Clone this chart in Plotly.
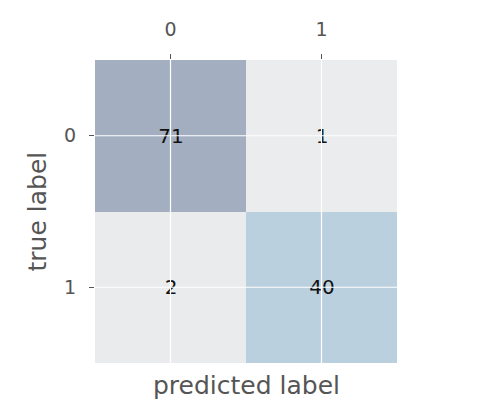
import plotly.graph_objects as go

# Data
pred_labels = ["0", "1"]
true_labels = ["0", "1"]
counts = [[71, 1],
          [2, 40]]

# Blues colormap at alpha 0.3 over ggplot grey (#E5E5E5)
blues = ["#f7fbff", "#deebf7", "#c6dbef", "#9ecae1", "#6baed6",
         "#4292c6", "#2171b5", "#08519c", "#08306b"]
bg = (229, 229, 229)
def blend(h, a=0.3):
    r, g, b = int(h[1:3], 16), int(h[3:5], 16), int(h[5:7], 16)
    return "rgb(%d,%d,%d)" % tuple(round(a * c + (1 - a) * k) for c, k in zip((r, g, b), bg))
colorscale = [[i / (len(blues) - 1), blend(c)] for i, c in enumerate(blues)]

xs = list(range(len(pred_labels)))
ys = list(range(len(true_labels)))

fig = go.Figure()
fig.add_trace(go.Heatmap(
    z=counts, x=xs, y=ys, colorscale=colorscale, showscale=False,
    text=[[str(v) for v in row] for row in counts],
    texttemplate="%{text}",
    textfont=dict(family="DejaVu Sans", size=20, color="#111111"),
    hoverinfo="skip",
))

# white grid lines above the image, at tick positions
for i in xs:
    fig.add_shape(type="line", x0=i, x1=i, y0=0, y1=1, xref="x", yref="y domain",
                  line=dict(color="white", width=1.2), layer="above")
for j in ys:
    fig.add_shape(type="line", y0=j, y1=j, x0=0, x1=1, yref="y", xref="x domain",
                  line=dict(color="white", width=1.2), layer="above")

tickfont = dict(family="DejaVu Sans", size=19, color="#555555")
fig.update_layout(
    width=477, height=417,
    margin=dict(l=87, r=88, t=52, b=62),
    paper_bgcolor="white", plot_bgcolor="#E5E5E5",
    font=dict(family="DejaVu Sans", color="#555555"),
    xaxis=dict(side="top", tickmode="array", tickvals=xs, ticktext=pred_labels,
               range=[-0.5, len(xs) - 0.5], showgrid=False, zeroline=False,
               ticks="outside", ticklen=5, tickcolor="#555555", tickwidth=1,
               ticklabelstandoff=10, automargin=False,
               tickfont=tickfont, showline=False, fixedrange=True),
    yaxis=dict(tickmode="array", tickvals=ys, ticktext=true_labels,
               range=[len(ys) - 0.5, -0.5], showgrid=False, zeroline=False,
               ticks="outside", ticklen=5, tickcolor="#555555", tickwidth=1,
               ticklabelstandoff=9, automargin=False,
               tickfont=tickfont, showline=False, fixedrange=True),
    showlegend=False,
)
fig.add_annotation(text="predicted label", xref="paper", yref="paper", x=0.5, y=0,
                   yshift=-6, yanchor="top", showarrow=False,
                   font=dict(family="DejaVu Sans", size=25, color="#555555"))
fig.add_annotation(text="true label", xref="paper", yref="paper", x=0, y=0.5,
                   xshift=-58, xanchor="center", yanchor="middle", textangle=-90,
                   showarrow=False,
                   font=dict(family="DejaVu Sans", size=25, color="#555555"))

fig.write_html("out.html")
